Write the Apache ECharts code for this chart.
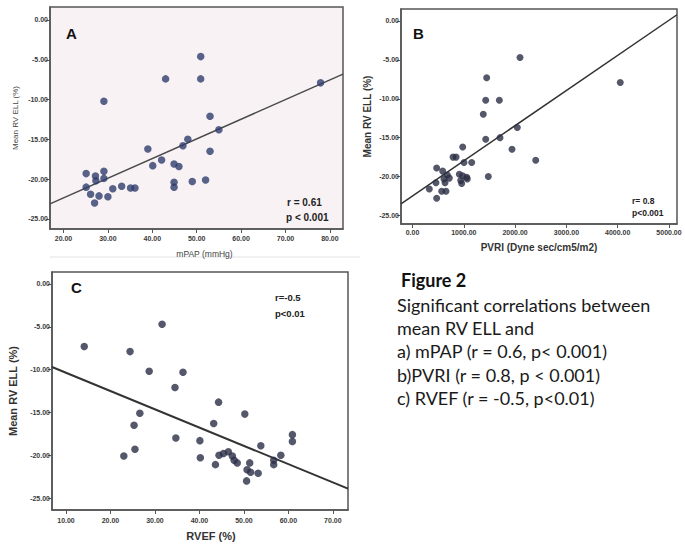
<!DOCTYPE html>
<html>
<head>
<meta charset="utf-8">
<script src="https://cdn.jsdelivr.net/npm/echarts@6/dist/echarts.min.js"></script>
<style>
html,body{margin:0;padding:0;background:#fff;}
#chart{width:685px;height:554px;}
</style>
</head>
<body>
<div id="chart"></div>
<script>
// ---- Panel A: mPAP vs Mean RV ELL ----
var aX = [50.9,43.0,50.9,77.9,29.1,53.0,55.0,48.0,46.9,39.0,53.0,42.1,40.1,44.9,46.0,49.0,52.0,44.9,44.9,25.1,27.2,29.1,29.1,27.3,25.1,26.1,28.0,30.0,27.0,31.1,33.1,35.1,36.1];
var aY = [-4.6,-7.4,-7.4,-7.9,-10.2,-12.1,-13.8,-15.0,-15.8,-16.2,-16.5,-17.6,-18.3,-18.1,-18.4,-20.3,-20.1,-20.4,-21.0,-19.3,-19.6,-19.0,-19.9,-20.2,-21.0,-21.9,-22.1,-22.2,-23.0,-21.2,-20.9,-21.1,-21.1];
var aFitX = [16.96, 82.95];
var aFitY = [-23.1, -6.8];
var aXTicks = [20,30,40,50,60,70,80];
var aYTicks = [0,-5,-10,-15,-20,-25];

// ---- Panel B: PVRI vs Mean RV ELL ----
var bX = [2096,1446,4050,1427,1693,1380,2043,1427,1706,979,1940,2402,790,850,1004,1154,1478,471,588,679,614,718,634,913,978,1057,940,1068,959,458,328,569,653,471];
var bY = [-4.7,-7.3,-7.9,-10.2,-10.2,-12.0,-13.7,-15.2,-15.0,-16.2,-16.5,-17.9,-17.5,-17.5,-18.2,-18.2,-20.0,-18.9,-19.3,-19.8,-20.3,-20.2,-20.8,-19.7,-19.9,-20.1,-20.5,-20.3,-20.9,-20.8,-21.6,-21.9,-21.9,-22.8];
var bFitX = [-224, 5156];
var bFitY = [-23.5, 0.8];
var bXTicks = [0,1000,2000,3000,4000,5000];
var bYTicks = [0,-5,-10,-15,-20,-25];

// ---- Panel C: RVEF vs Mean RV ELL ----
var cX = [14.1,31.6,24.4,28.7,36.3,34.5,44.3,26.6,50.2,25.3,43.2,34.7,40.1,60.9,60.9,25.5,23.0,40.2,53.8,58.3,43.6,44.4,45.4,46.5,47.4,47.8,48.5,51.3,50.7,51.5,53.2,50.6,56.7,56.7];
var cY = [-7.3,-4.7,-7.9,-10.2,-10.3,-12.1,-13.8,-15.1,-15.2,-16.5,-16.3,-18.0,-18.3,-17.6,-18.4,-19.3,-20.1,-20.3,-18.9,-20.0,-21.1,-20.0,-19.8,-19.6,-20.1,-20.6,-20.9,-20.9,-21.7,-22.0,-22.1,-23.0,-20.6,-21.1];
var cFitX = [6.85, 73.4];
var cFitY = [-9.7, -23.9];
var cXTicks = [10,20,30,40,50,60,70];
var cYTicks = [0,-5,-10,-15,-20,-25];

// ---- Caption text ----
var captionTitle = 'Figure 2';
var captionLines = [
  'Significant correlations between',
  'mean RV ELL and',
  'a) mPAP (r = 0.6, p< 0.001)',
  'b)PVRI (r = 0.8, p < 0.001)',
  'c) RVEF (r = -0.5, p<0.01)'
];

function pairs(xs, ys){ return xs.map(function(x,i){ return [x, ys[i]]; }); }
function fmt(v){ return Number(v).toFixed(2); }

var tickLbl = {fontSize:7, color:'#3a3a3a', fontFamily:'Liberation Sans, Arial, sans-serif', fontWeight:'bold', formatter: fmt};

function xAx(grid, min, max, ticks, name, nameGap, nameStyle, margin){
  return {
    type:'value', gridIndex:grid, min:min, max:max,
    axisLine:{show:true, onZero:false, lineStyle:{color:'#555', width:1.5}},
    axisTick:{show:true, length:4, customValues:ticks, lineStyle:{color:'#555'}},
    axisLabel:Object.assign({customValues:ticks, margin:margin}, tickLbl),
    splitLine:{show:false},
    name:name, nameLocation:'middle', nameGap:nameGap, nameTextStyle:nameStyle
  };
}
function yAx(grid, min, max, ticks, name, nameGap, nameStyle){
  return {
    type:'value', gridIndex:grid, min:min, max:max,
    axisLine:{show:true, onZero:false, lineStyle:{color:'#555', width:1.5}},
    axisTick:{show:true, length:4, customValues:ticks, lineStyle:{color:'#555'}},
    axisLabel:Object.assign({customValues:ticks, margin:2}, tickLbl),
    splitLine:{show:false},
    name:name, nameLocation:'middle', nameGap:nameGap, nameTextStyle:nameStyle
  };
}

var chart = echarts.init(document.getElementById('chart'), null, {renderer:'svg'});

var option = {
  backgroundColor:'#ffffff',
  animation:false,
  grid:[
    {left:50, top:7, width:293, height:222, show:true, backgroundColor:'#f8f2f5', borderColor:'#555', borderWidth:1.5},
    {left:401, top:9, width:276, height:215, show:true, backgroundColor:'#ffffff', borderColor:'#555', borderWidth:1.5},
    {left:52, top:272, width:296, height:238, show:true, backgroundColor:'#ffffff', borderColor:'#555', borderWidth:1.5}
  ],
  xAxis:[
    xAx(0, 16.96, 82.95, aXTicks, 'mPAP (mmHg)', 20, {fontSize:8.5, color:'#444', fontFamily:'Liberation Sans, Arial, sans-serif', padding:[0,0,0,16]}, 6),
    xAx(1, -224, 5156, bXTicks, 'PVRI (Dyne sec/cm5/m2)', 18, {fontSize:10, fontWeight:'bold', color:'#333', fontFamily:'Liberation Sans, Arial, sans-serif'}, 5),
    xAx(2, 6.85, 73.4, cXTicks, 'RVEF (%)', 20, {fontSize:11, fontWeight:'bold', color:'#333', fontFamily:'Liberation Sans, Arial, sans-serif', padding:[0,0,0,22]}, 7)
  ],
  yAxis:[
    yAx(0, -26.26, 1.63, aYTicks, 'Mean RV ELL (%)', 31, {fontSize:8, color:'#444', fontFamily:'Liberation Sans, Arial, sans-serif'}),
    yAx(1, -26.1, 1.54, bYTicks, 'Mean RV ELL (%)', 29, {fontSize:10, fontWeight:'bold', color:'#333', fontFamily:'Liberation Sans, Arial, sans-serif'}),
    yAx(2, -26.4, 1.40, cYTicks, 'Mean RV ELL (%)', 34, {fontSize:11, fontWeight:'bold', color:'#333', fontFamily:'Liberation Sans, Arial, sans-serif'})
  ],
  series:[
    {type:'scatter', xAxisIndex:0, yAxisIndex:0, data:pairs(aX,aY), symbolSize:7.5, itemStyle:{color:'#2f3c6c'}, z:3},
    {type:'line', xAxisIndex:0, yAxisIndex:0, data:pairs(aFitX,aFitY), showSymbol:false, symbol:'none', lineStyle:{color:'#4a4a4a', width:1.5}, silent:true, z:2},
    {type:'scatter', xAxisIndex:1, yAxisIndex:1, data:pairs(bX,bY), symbolSize:7, itemStyle:{color:'#2a2e44'}, z:3},
    {type:'line', xAxisIndex:1, yAxisIndex:1, data:pairs(bFitX,bFitY), showSymbol:false, symbol:'none', lineStyle:{color:'#333', width:1.5}, silent:true, z:2},
    {type:'scatter', xAxisIndex:2, yAxisIndex:2, data:pairs(cX,cY), symbolSize:7.5, itemStyle:{color:'#2a2e46'}, z:3},
    {type:'line', xAxisIndex:2, yAxisIndex:2, data:pairs(cFitX,cFitY), showSymbol:false, symbol:'none', lineStyle:{color:'#333', width:2}, silent:true, z:2}
  ],
  graphic:[
    {type:'line', shape:{x1:50, y1:257, x2:360, y2:257}, style:{stroke:'#e2e2e2', lineWidth:1}, silent:true},
    {type:'text', x:66, y:33, style:{text:'A', font:'bold 15px "Liberation Sans", Arial, sans-serif', fill:'#111', verticalAlign:'middle'}},
    {type:'text', x:287, y:202, style:{text:'r = 0.61', font:'bold 10px "Liberation Sans", Arial, sans-serif', fill:'#222', verticalAlign:'middle'}},
    {type:'text', x:286, y:217, style:{text:'p < 0.001', font:'bold 10px "Liberation Sans", Arial, sans-serif', fill:'#222', verticalAlign:'middle'}},
    {type:'text', x:413, y:33, style:{text:'B', font:'bold 15px "Liberation Sans", Arial, sans-serif', fill:'#111', verticalAlign:'middle'}},
    {type:'text', x:632, y:201, style:{text:'r= 0.8', font:'bold 8.5px "Liberation Sans", Arial, sans-serif', fill:'#222', verticalAlign:'middle'}},
    {type:'text', x:632, y:213, style:{text:'p<0.001', font:'bold 8.5px "Liberation Sans", Arial, sans-serif', fill:'#222', verticalAlign:'middle'}},
    {type:'text', x:71, y:287, style:{text:'C', font:'bold 15px "Liberation Sans", Arial, sans-serif', fill:'#111', verticalAlign:'middle'}},
    {type:'text', x:275, y:297, style:{text:'r=-0.5', font:'bold 9.5px "Liberation Sans", Arial, sans-serif', fill:'#222', verticalAlign:'middle'}},
    {type:'text', x:275, y:313, style:{text:'p<0.01', font:'bold 9.5px "Liberation Sans", Arial, sans-serif', fill:'#222', verticalAlign:'middle'}},
    {type:'text', x:401, y:280, style:{text:captionTitle, font:'bold 18px Lato, "Open Sans", sans-serif', fill:'#111', verticalAlign:'middle'}}
  ].concat(captionLines.map(function(t,i){
    return {type:'text', x:397, y:305 + i*23.2, style:{text:t, font:'18px Lato, "Open Sans", sans-serif', fill:'#1a1a1a', verticalAlign:'middle'}};
  }))
};
chart.setOption(option);
</script>
</body>
</html>
